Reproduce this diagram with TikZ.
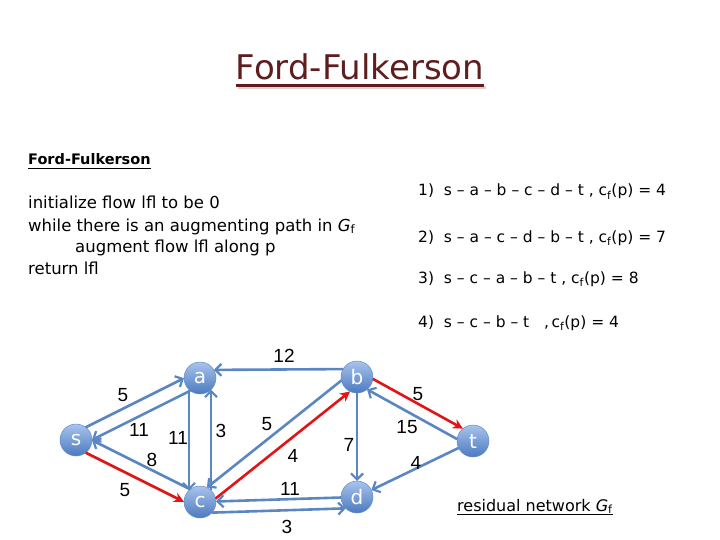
\documentclass[tikz,border=0pt]{standalone}
\usepackage{fontspec}
\setmainfont{DejaVu Sans}
\newfontfamily\numfont{Liberation Sans}
\usetikzlibrary{arrows.meta,calc}
\definecolor{eblue}{HTML}{5A86C2}
\definecolor{ered}{HTML}{E01515}
\definecolor{ntop}{HTML}{A9C3EC}
\definecolor{nbot}{HTML}{4A7ABF}
\definecolor{ttlc}{HTML}{5E1E1E}
\definecolor{shadc}{HTML}{E8CCCC}
\begin{document}
\begin{tikzpicture}[x=1pt,y=-1pt,
  vtx/.style={circle,minimum size=32pt,inner sep=0pt,top color=ntop,bottom color=nbot,draw=nbot!85,line width=0.5pt,text=white,font=\fontsize{20}{20}\selectfont},
  bl/.style={draw=eblue,line width=2.6pt,-{Straight Barb[length=6pt,width=12pt,line width=2.2pt]}},
  rd/.style={draw=ered,line width=2.6pt,-{Stealth[length=10pt,width=10pt]}},
  lbl/.style={font=\numfont\fontsize{19}{19}\selectfont,inner sep=0pt},
  txt/.style={font=\fontsize{16.5}{16.5}\selectfont,anchor=base west,inner sep=0pt},
  lst/.style={font=\fontsize{15.5}{15.5}\selectfont,anchor=base west,inner sep=0pt},
]
\useasboundingbox (0,0) rectangle (720,540);
% title
\node[font=\fontsize{34}{34}\selectfont,text=ttlc,inner sep=0pt,anchor=base] (ttl) at (360,80) {Ford-Fulkerson};
\draw[shadc,line width=3pt] ($(ttl.base west)+(2,8)$) -- ($(ttl.base east)+(2,8)$);
\draw[ttlc,line width=3pt] ($(ttl.base west)+(0,6)$) -- ($(ttl.base east)+(0,6)$);
% heading
\node[font=\bfseries\fontsize{14.5}{14.5}\selectfont,anchor=base west,inner sep=0pt] (hd) at (28,165) {Ford-Fulkerson};
\draw[line width=1.6pt] ($(hd.base west)+(0,3.5)$) -- ($(hd.base east)+(0,3.5)$);
% pseudocode
\node[txt] (p1) at (28,209) {initialize flow lfl to be 0};
\node[txt] (p2) at (28,231) {while there is an augmenting path in \textit{G}\textsubscript{f}};
\node[txt] (p3) at (75,252) {augment flow lfl along p};
\node[txt] (p4) at (28,274) {return lfl};
% list
\node[lst] (l1) at (418,196) {1)\ \ s -- a -- b -- c -- d -- t\ ,\ c\textsubscript{f}(p) = 4};
\node[lst] (l2) at (418,242) {2)\ \ s -- a -- c -- d -- b -- t\ ,\ c\textsubscript{f}(p) = 7};
\node[lst] (l3) at (418,283) {3)\ \ s -- c -- a -- b -- t\ ,\ c\textsubscript{f}(p) = 8};
\node[lst] (l4) at (418,327) {4)\ \ s -- c -- b -- t\ \ \ ,\,c\textsubscript{f}(p) = 4};
% residual
\node[font=\fontsize{16}{16}\selectfont,anchor=base west,inner sep=0pt] (rn) at (457,511) {residual network \textit{G}\textsubscript{f}};
\draw[line width=1.6pt] ($(rn.base west)+(0,3.5)$) -- ($(rn.base east)+(0,3.5)$);
% vertices
\node[vtx] (s) at (76,440) {s};
\node[vtx] (a) at (200,378) {a};
\node[vtx] (c) at (200,502) {c};
\node[vtx] (b) at (357,377) {b};
\node[vtx] (d) at (357,497) {d};
\node[vtx] (t) at (473,441) {t};
% edges
\foreach \u/\v/\d/\sh/\sty in {s/a/7pt/14.4pt/bl, a/s/7pt/14.4pt/bl, s/c/-7pt/14.4pt/rd, c/s/-7pt/14.4pt/bl,
  a/c/-11pt/11.6pt/bl, c/a/-11pt/11.6pt/bl, b/a/-8pt/13.9pt/bl, b/c/-7pt/14.4pt/bl, c/b/-7pt/14.4pt/rd,
  d/c/0pt/16pt/bl, c/d/-11pt/11.6pt/bl, b/d/0pt/16pt/bl, b/t/6pt/14.8pt/rd, t/b/6pt/14.8pt/bl, t/d/0pt/16pt/bl}
  \draw[\sty,shorten <=\sh,shorten >=\sh] ($(\u)!\d!90:(\v)$) -- ($(\v)!\d!-90:(\u)$);
% labels
\node[lbl] (e1) at (123,395) {5};
\node[lbl] (e2) at (139,430) {11};
\node[lbl] (e3) at (125,490) {5};
\node[lbl] (e4) at (152,460) {8};
\node[lbl] (e5) at (178,438) {11};
\node[lbl] (e6) at (221,431) {3};
\node[lbl] (e7) at (284,356) {12};
\node[lbl] (e8) at (267,424) {5};
\node[lbl] (e9) at (293,456) {4};
\node[lbl] (e10) at (290,489) {11};
\node[lbl] (e11) at (287,527) {3};
\node[lbl] (e12) at (349,445) {7};
\node[lbl] (e13) at (418,394) {5};
\node[lbl] (e14) at (407,427) {15};
\node[lbl] (e15) at (416,463) {4};
\end{tikzpicture}
\end{document}
